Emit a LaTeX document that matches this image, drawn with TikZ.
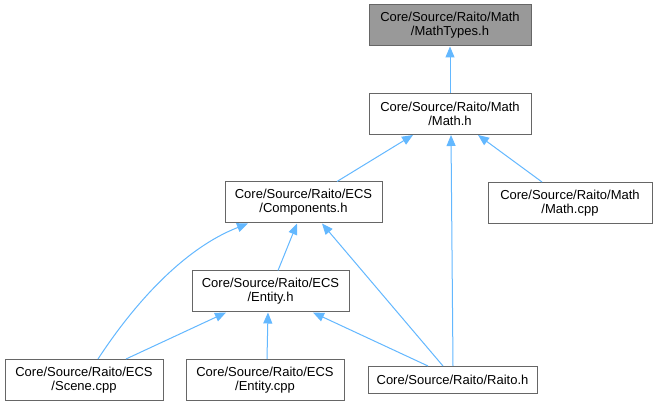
\documentclass[tikz,border=0pt]{standalone}
\usepackage{fontspec}
\setmainfont{Liberation Sans}
\usetikzlibrary{arrows.meta}
\definecolor{edgeblue}{HTML}{63B8FF}
\definecolor{boxgrey}{HTML}{666666}
\definecolor{fillgrey}{HTML}{999999}
\begin{document}
\begin{tikzpicture}[x=1pt,y=-1pt,
  box/.style={draw=boxgrey, line width=1pt, fill=white, minimum height=41pt, inner sep=0pt, align=center, font=\fontsize{13}{14}\selectfont},
  link/.style={draw=edgeblue, line width=1pt, {Triangle[length=11pt,width=9pt]}-}]
\fill[white] (0,0) rectangle (654,406);
\useasboundingbox (0,0) rectangle (654,406);

\node[box, fill=fillgrey, minimum width=162pt] (mt) at (450,25.5) {Core/Source/Raito/Math\\/MathTypes.h};
\node[box, minimum width=162pt] (mh) at (450,114) {Core/Source/Raito/Math\\/Math.h};
\node[box, minimum width=157pt] (comp) at (303.5,202.5) {Core/Source/Raito/ECS\\/Components.h};
\node[box, minimum width=164pt] (mcpp) at (570,203) {Core/Source/Raito/Math\\/Math.cpp};
\node[box, minimum width=157pt] (ent) at (270.5,291.5) {Core/Source/Raito/ECS\\/Entity.h};
\node[box, minimum width=158pt] (scene) at (84,380) {Core/Source/Raito/ECS\\/Scene.cpp};
\node[box, minimum width=158pt] (ecpp) at (265,380) {Core/Source/Raito/ECS\\/Entity.cpp};
\node[box, minimum width=169pt, minimum height=27pt] (raito) at (452.5,380) {Core/Source/Raito/Raito.h};

\draw[link] (mt.south) -- (mh.north);
\draw[link] ([xshift=-37pt]mh.south) -- ([xshift=33.5pt]comp.north);
\draw[link] ([xshift=1pt]mh.south) -- ([xshift=0.5pt]raito.north);
\draw[link] ([xshift=28pt]mh.south) -- ([xshift=-28pt]mcpp.north);
\draw[link] ([xshift=-6.5pt]comp.south) -- ([xshift=7.5pt]ent.north);
\draw[link] ([xshift=-55.5pt]comp.south) .. controls (180,250) and (130,310) .. ([xshift=14pt]scene.north);
\draw[link] ([xshift=18.5pt]comp.south) -- ([xshift=-9.5pt]raito.north);
\draw[link] ([xshift=-44.5pt]ent.south) -- ([xshift=42pt]scene.north);
\draw[link] ([xshift=-2.5pt]ent.south) -- ([xshift=2pt]ecpp.north);
\draw[link] ([xshift=42.5pt]ent.south) -- ([xshift=-24.5pt]raito.north);
\end{tikzpicture}
\end{document}
